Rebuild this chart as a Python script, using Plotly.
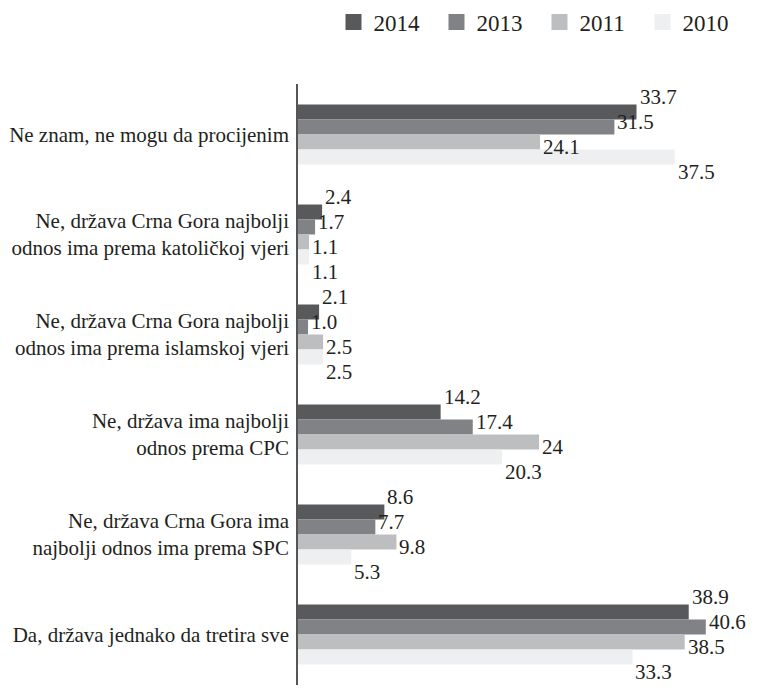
import plotly.graph_objects as go

# answer categories, top to bottom
categories = [
    "Ne znam, ne mogu da procijenim",
    "Ne, država Crna Gora najbolji<br>odnos ima prema katoličkoj vjeri",
    "Ne, država Crna Gora najbolji<br>odnos ima prema islamskoj vjeri",
    "Ne, država ima najbolji<br>odnos prema CPC",
    "Ne, država Crna Gora ima<br>najbolji odnos ima prema SPC",
    "Da, država jednako da tretira sve",
]

years = ["2014", "2013", "2011", "2010"]
v2014 = [33.7, 2.4, 2.1, 14.2, 8.6, 38.9]
v2013 = [31.5, 1.7, 1.0, 17.4, 7.7, 40.6]
v2011 = [24.1, 1.1, 2.5, 24, 9.8, 38.5]
v2010 = [37.5, 1.1, 2.5, 20.3, 5.3, 33.3]

series = [v2014, v2013, v2011, v2010]
colors = ["#58595b", "#808285", "#bcbec0", "#eeeff0"]
label_shift = [37.5, 12.5, -12.5, -37.5]  # value labels sit wider apart than the bars
FONT = "Liberation Serif"
TXT = "#231f20"

fig = go.Figure()
annotations = []
for i, (year, vals) in enumerate(zip(years, series)):
    fig.add_trace(go.Bar(
        name=year, y=categories, x=vals, orientation="h",
        marker=dict(color=colors[i], line=dict(width=0)),
        showlegend=False, legendgroup=year, hoverinfo="x+name",
    ))
    # empty trace only to get a bigger square swatch in the legend
    fig.add_trace(go.Scatter(
        name=year, x=[None], y=[None], mode="markers", legendgroup=year,
        marker=dict(symbol="square", size=16, color=colors[i]),
    ))
    for cat, v in zip(categories, vals):
        annotations.append(dict(
            x=v, y=cat, xref="x", yref="y", text=str(v), showarrow=False,
            xanchor="left", yanchor="middle", xshift=2, yshift=label_shift[i],
            borderpad=0, font=dict(family=FONT, size=21, color=TXT),
        ))

# the page body has an 8px margin all round, so keep the figure inside the window
fig.update_layout(
    width=742, height=677,
    margin=dict(l=290, r=0, t=76, b=0, autoexpand=False),
    paper_bgcolor="white", plot_bgcolor="white",
    barmode="group", bargap=0.4, bargroupgap=0,
    font=dict(family=FONT, size=21, color=TXT),
    annotations=annotations,
    legend=dict(
        orientation="h", x=0.99, xanchor="right",
        y=1 - 14 / 677, yref="container", yanchor="middle",
        font=dict(family=FONT, size=23, color=TXT),
        itemsizing="trace", entrywidth=58, traceorder="normal",
    ),
    xaxis=dict(range=[0, 45.0], visible=False, showgrid=False, zeroline=False),
    yaxis=dict(
        autorange="reversed", showline=True, linecolor="#555555", linewidth=1.5,
        ticks="", showgrid=False, ticklabelstandoff=3, automargin=False,
        tickfont=dict(family=FONT, size=21, color=TXT),
    ),
)

fig.write_html("out.html")
